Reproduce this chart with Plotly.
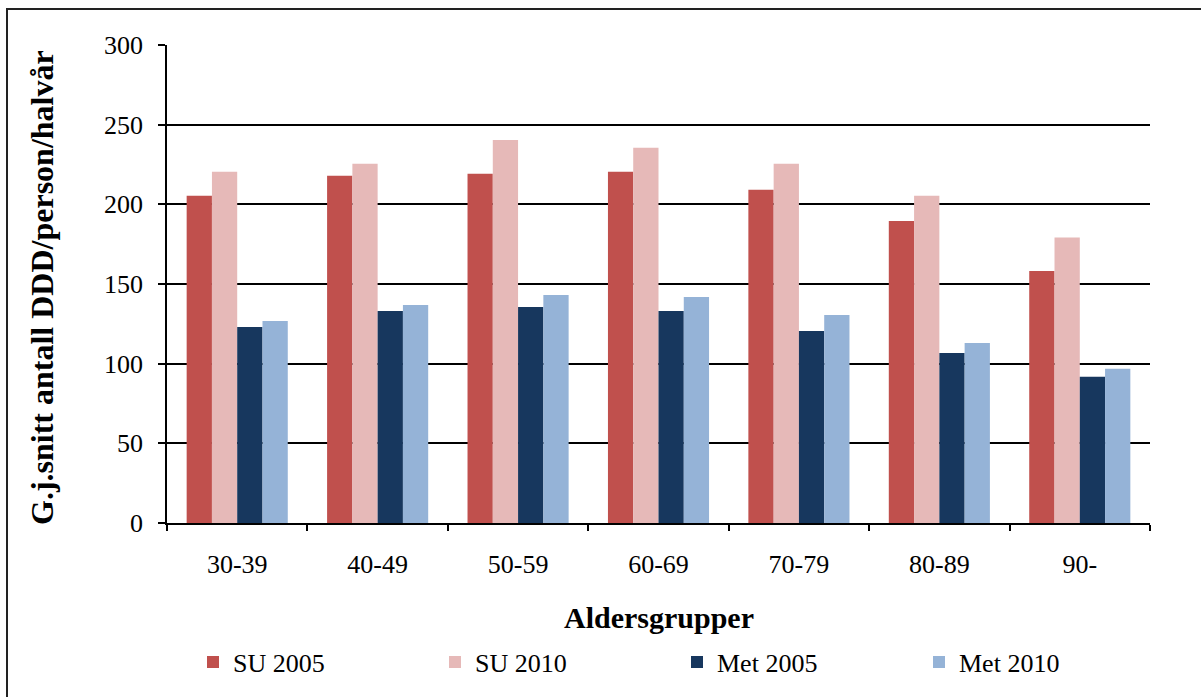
import plotly.graph_objects as go

# Age groups on the x axis
age_groups = ["30-39", "40-49", "50-59", "60-69", "70-79", "80-89", "90-"]

# Average DDD per person per half-year
su_2005 = [205.4, 217.9, 219.2, 220.5, 209.2, 189.5, 158.1]
su_2010 = [220.5, 225.5, 240.3, 235.5, 225.5, 205.4, 179.2]
met_2005 = [123.0, 133.1, 135.6, 133.1, 120.5, 106.7, 91.8]
met_2010 = [126.8, 136.8, 143.1, 141.9, 130.6, 113.0, 96.8]

series = [
    ("SU 2005", su_2005, "#C0504D"),
    ("SU 2010", su_2010, "#E6B9B8"),
    ("Met 2005", met_2005, "#17375E"),
    ("Met 2010", met_2010, "#95B3D7"),
]

FONT = "Liberation Serif, Times New Roman, serif"

fig = go.Figure()
for name, vals, color in series:
    fig.add_trace(go.Bar(
        name=name, x=age_groups, y=vals,
        marker=dict(color=color, line=dict(width=0)),
    ))

W, H = 1201, 697
L, R, T, B = 167, 51, 45, 174
pw, ph = W - L - R, H - T - B


def px_x(p):
    return (p - L) / pw


def px_y(p):
    return (H - B - p) / ph


fig.update_layout(
    width=W, height=H,
    margin=dict(l=L, r=R, t=T, b=B),
    paper_bgcolor="white", plot_bgcolor="white",
    barmode="group", bargap=0.28, bargroupgap=0,
    font=dict(family=FONT, size=26, color="black"),
    showlegend=True,
    legend=dict(
        orientation="h",
        x=px_x(193), xanchor="left",
        y=px_y(662), yanchor="middle",
        entrywidth=197, entrywidthmode="pixels",
        font=dict(family=FONT, size=26, color="black"),
        bgcolor="rgba(0,0,0,0)",
        traceorder="normal",
    ),
    xaxis=dict(
        showline=True, linecolor="black", linewidth=1.5,
        ticks="outside", tickson="boundaries", ticklen=6,
        tickcolor="black", tickwidth=1.5,
        showgrid=False,
        ticklabelstandoff=17,
        tickfont=dict(family=FONT, size=26),
    ),
    yaxis=dict(
        range=[0, 300], dtick=50, tick0=0,
        showline=True, linecolor="black", linewidth=1.5,
        ticks="outside", ticklen=7, tickcolor="black", tickwidth=1.5,
        showgrid=True, gridcolor="black", gridwidth=1.6,
        zeroline=False,
        ticklabelstandoff=10,
        tickfont=dict(family=FONT, size=26),
    ),
    annotations=[
        dict(
            text="<b>G.j.snitt antall DDD/person/halvår</b>",
            xref="paper", yref="paper",
            x=px_x(42), y=px_y(288), xanchor="center", yanchor="middle",
            textangle=-90, showarrow=False,
            font=dict(family=FONT, size=32, color="black"),
        ),
        dict(
            text="<b>Aldersgrupper</b>",
            xref="paper", yref="paper",
            x=0.5, y=px_y(617), xanchor="center", yanchor="middle",
            showarrow=False,
            font=dict(family=FONT, size=30, color="black"),
        ),
    ],
    shapes=[
        # outer chart frame
        dict(
            type="rect", xref="paper", yref="paper",
            x0=px_x(7), x1=px_x(1210), y0=px_y(710), y1=px_y(9),
            line=dict(color="#222222", width=2),
            fillcolor="rgba(0,0,0,0)", layer="below",
        ),
    ],
)

fig.write_html("out.html")
